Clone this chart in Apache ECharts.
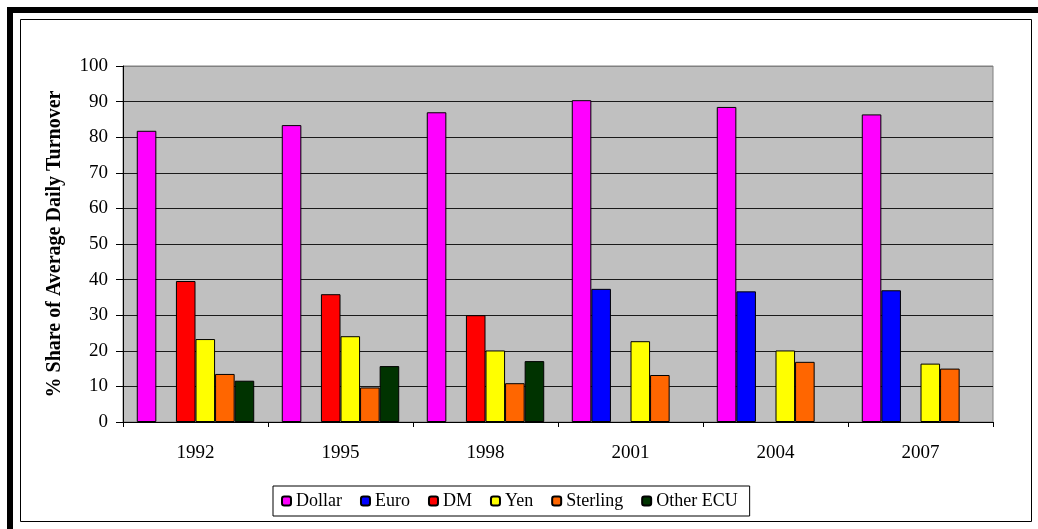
<!DOCTYPE html>
<html lang="en">
<head>
    <meta charset="UTF-8">
    <script src="https://cdn.jsdelivr.net/npm/echarts@6/dist/echarts.min.js"></script>
    <title>Currency share of daily turnover</title>
    <style>
        html, body { margin: 0; padding: 0; background: #fff; }
        #main { width: 1038px; height: 529px; }
    </style>
</head>
<body>
<div id="main"></div>
<script>
    var years = ['1992', '1995', '1998', '2001', '2004', '2007'];
    var dollar = [81.8, 83.4, 87.0, 90.4, 88.5, 86.4];
    var euro = [null, null, null, 37.4, 36.7, 37.0];
    var dm = [39.6, 35.9, 30.0, null, null, null];
    var yen = [23.3, 24.1, 20.1, 22.7, 20.1, 16.4];
    var sterling = [13.5, 9.7, 10.9, 13.2, 16.9, 15.0];
    var otherEcu = [11.6, 15.7, 17.1, null, null, null];

    var seriesNames = ['Dollar', 'Euro', 'DM', 'Yen', 'Sterling', 'Other ECU'];
    var seriesColors = ['#FF00FF', '#0000FF', '#FF0000', '#FFFF00', '#FF6600', '#003300'];
    var seriesData = [dollar, euro, dm, yen, sterling, otherEcu];

    var font = '"Liberation Serif", "Times New Roman", serif';

    var myChart = echarts.init(document.getElementById('main'));

    var series = [];
    for (var i = 0; i < seriesNames.length; i++) {
        series.push({
            name: seriesNames[i],
            type: 'bar',
            data: seriesData[i],
            barGap: '0%',
            barCategoryGap: '19%',
            itemStyle: {
                color: seriesColors[i],
                borderColor: '#000',
                borderWidth: 1
            }
        });
    }

    // split line colours: black inside, grey at the top edge
    var splitColors = [];
    for (var k = 0; k < 10; k++) splitColors.push('#1a1a1a');
    splitColors.push('#808080');

    var option = {
        animation: false,
        backgroundColor: '#fff',
        textStyle: { fontFamily: font },
        graphic: [
            // thick black frame on top and left
            { type: 'rect', shape: { x: 7, y: 7, width: 1031, height: 6 }, style: { fill: '#000' }, z: 100 },
            { type: 'rect', shape: { x: 7, y: 7, width: 6, height: 522 }, style: { fill: '#000' }, z: 100 },
            // thin inner frame
            { type: 'rect', shape: { x: 20.5, y: 19.5, width: 1011, height: 502 }, style: { fill: 'none', stroke: '#000', lineWidth: 1 }, z: 100 }
        ],
        grid: {
            left: 123,
            top: 66,
            right: 45,
            bottom: 107,
            show: true,
            backgroundColor: '#C0C0C0',
            borderColor: '#808080',
            borderWidth: 1
        },
        legend: {
            data: seriesNames,
            left: 273,
            top: 486,
            itemWidth: 9,
            itemHeight: 9,
            itemGap: 18,
            padding: [6, 12, 6, 8],
            borderColor: '#000',
            borderWidth: 1,
            textStyle: { fontFamily: font, fontSize: 18, color: '#000' }
        },
        xAxis: {
            type: 'category',
            data: years,
            axisLine: { lineStyle: { color: '#000', width: 1 } },
            axisTick: { show: true, length: 5, lineStyle: { color: '#000' } },
            axisLabel: { color: '#000', fontSize: 19, fontFamily: font, margin: 22 }
        },
        yAxis: {
            type: 'value',
            min: 0,
            max: 100,
            interval: 10,
            name: '% Share of Average Daily Turnover',
            nameLocation: 'middle',
            nameGap: 58,
            nameTextStyle: { fontFamily: font, fontSize: 20, fontWeight: 'bold', color: '#000' },
            axisLine: { show: true, lineStyle: { color: '#000', width: 1 } },
            axisTick: { show: true, length: 7, lineStyle: { color: '#000' } },
            axisLabel: { color: '#000', fontSize: 19, fontFamily: font, margin: 15 },
            splitLine: { show: true, lineStyle: { color: splitColors, width: 1 } }
        },
        series: series
    };

    myChart.setOption(option);
</script>
</body>
</html>
